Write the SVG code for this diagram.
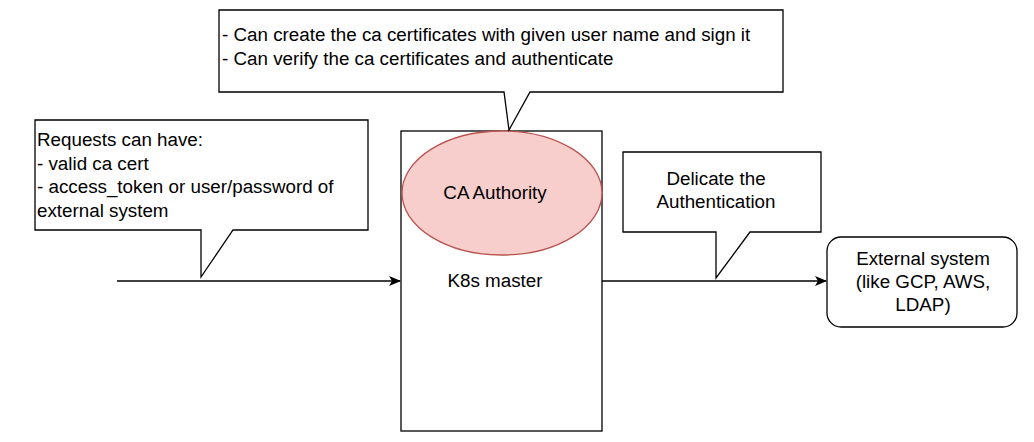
<svg xmlns="http://www.w3.org/2000/svg" width="1034" height="442" viewBox="0 0 1034 442">
<defs>
<style>
text{font-family:"Liberation Sans",Arial,Helvetica,sans-serif;font-size:18.8px;fill:#000}
.s{fill:#fff;stroke:#000;stroke-width:1.3}
.c{text-anchor:middle}
.e{stroke:#000;stroke-width:1.3;fill:none}
</style>
<marker id="ah" markerWidth="12" markerHeight="10" refX="11" refY="5" orient="auto" markerUnits="userSpaceOnUse">
<path d="M0,0 L12,5 L0,10 L3,5 Z" fill="#000"/>
</marker>
</defs>
<rect width="1034" height="442" fill="#fff"/>
<g id="connectors">
<line class="e" x1="117" y1="281" x2="400" y2="281" marker-end="url(#ah)"/>
<line class="e" x1="602" y1="281" x2="826" y2="281" marker-end="url(#ah)"/>
</g>
<g id="k8s-master">
<rect class="s" x="401" y="131" width="201" height="300"/>
<text class="c" x="495" y="287">K8s master</text>
</g>
<g id="ca-authority">
<ellipse cx="502" cy="193" rx="100" ry="62" fill="#f8cecc" stroke="#b85450" stroke-width="1.3"/>
<text class="c" x="495" y="199">CA Authority</text>
</g>
<g id="callout-top">
<path class="s" d="M219,10 H783 V92 H530 L509,130 L504,92 H219 Z"/>
<text x="222" y="41">- Can create the ca certificates with given user name and sign it</text>
<text x="222" y="65">- Can verify the ca certificates and authenticate</text>
</g>
<g id="callout-left">
<path class="s" d="M35,120 H368 V230 H233 L201,277 L201,230 H35 Z"/>
<text x="37" y="146">Requests can have:</text>
<text x="37" y="170">- valid ca cert</text>
<text x="37" y="193">- access_token or user/password of</text>
<text x="37" y="217">external system</text>
</g>
<g id="callout-right">
<path class="s" d="M623,152 H821 V232 H750 L716,278 L716,232 H623 Z"/>
<text class="c" x="716" y="185">Delicate the</text>
<text class="c" x="716" y="208">Authentication</text>
</g>
<g id="external-system">
<rect class="s" x="827" y="237" width="190" height="90" rx="14"/>
<text class="c" x="923" y="265">External system</text>
<text class="c" x="923" y="288">(like GCP, AWS,</text>
<text class="c" x="923" y="311">LDAP)</text>
</g>
</svg>
